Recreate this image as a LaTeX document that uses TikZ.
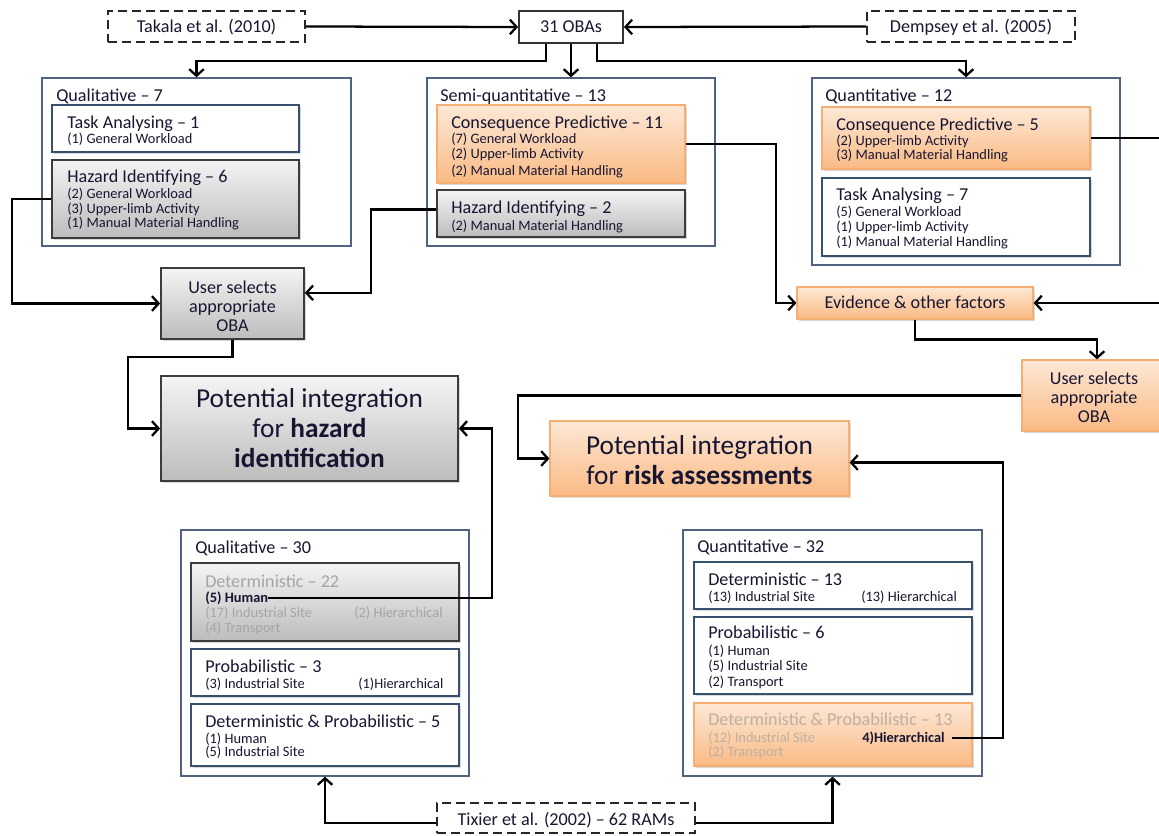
\documentclass[tikz,border=0pt]{standalone}
\usepackage{fontspec}
\setmainfont{Carlito}
\usetikzlibrary{arrows.meta,fit,shadows,calc}
\definecolor{ink}{RGB}{22,22,50}
\definecolor{outerc}{RGB}{80,100,130}
\definecolor{wboxc}{RGB}{55,80,110}
\definecolor{gborder}{RGB}{60,60,60}
\definecolor{oborder}{RGB}{245,175,115}
\definecolor{otop}{RGB}{253,232,214}
\definecolor{obot}{RGB}{250,186,132}
\definecolor{gtop}{RGB}{244,244,244}
\definecolor{gbot}{RGB}{188,188,188}
\definecolor{greytext}{RGB}{165,165,165}
\definecolor{paletext}{RGB}{190,175,162}
\newcommand\ftTitle{\fontsize{13.6pt}{16pt}\selectfont}
\newcommand\ftSmall{\fontsize{10.8pt}{12pt}\selectfont}
\newcommand\ftBig{\fontsize{20.5pt}{22.5pt}\selectfont}
\newcommand\ftUser{\fontsize{13.6pt}{14.3pt}\selectfont}
\tikzset{
  shad/.style={drop shadow={shadow xshift=1.2pt, shadow yshift=-1.2pt, opacity=0.3}},
  outerbox/.style={draw=outerc, line width=1pt, fill=white, inner sep=0pt},
  whitebox/.style={draw=wboxc, line width=1.3pt, fill=white, inner sep=0pt, shad},
  greybox/.style={draw=gborder, line width=1.3pt, top color=gtop, bottom color=gbot, inner sep=0pt, shad},
  orangebox/.style={draw=oborder, line width=0.9pt, top color=otop, bottom color=obot, inner sep=0pt, shad},
  dashbox/.style={draw=black!85, line width=1.7pt, dash pattern=on 6.5pt off 4pt, fill=white, inner sep=0pt},
  ttl/.style={anchor=west, inner sep=0pt, font=\ftTitle, text=ink, text height=8.7pt, text depth=0pt},
  sml/.style={anchor=west, inner sep=0pt, font=\ftSmall, text=ink, text height=6.9pt, text depth=0pt},
  ctr/.style={inner sep=0pt, font=\ftTitle, text=ink, text height=8.7pt, text depth=0pt},
  usr/.style={inner sep=0pt, font=\ftUser, text=ink, align=center},
  big/.style={inner sep=0pt, font=\ftBig, text=ink, align=center},
  conn/.style={draw=black, line width=1.7pt, -{Straight Barb[length=5pt,width=11pt]}},
}
\begin{document}
\begin{tikzpicture}[x=0.75pt,y=-0.75pt]
\useasboundingbox (0,0) rectangle (1159,835);

% ---------- top source boxes ----------
\node[dashbox, fit={(108,11) (305,42)}] (tk) {};
\node[ctr] (tkt) at (tk.center) {Takala et al. (2010)};
\node[draw=black!80, line width=1.4pt, fill=white, inner sep=0pt, fit={(519,11) (623,43)}] (oba) {};
\node[ctr] (obat) at (oba.center) {31 OBAs};
\node[dashbox, fit={(867,11) (1075,42)}] (dm) {};
\node[ctr] (dmt) at (dm.center) {Dempsey et al. (2005)};

% ---------- OBA groups ----------
\node[outerbox, fit={(42,78) (351,246)}] (q7) {};
\node[ttl] (q7t) at (56,96) {Qualitative -- 7};
\node[whitebox, fit={(52,105) (299,152)}] (ta1) {};
\node[ttl] (ta1t) at (67,123) {Task Analysing -- 1};
\node[sml] (ta1a) at (67,139) {(1) General Workload};
\node[greybox, fit={(52,160) (299,238)}] (hz6) {};
\node[ttl] (hz6t) at (67,177) {Hazard Identifying -- 6};
\node[sml] (hz6a) at (67,194) {(2) General Workload};
\node[sml] (hz6b) at (67,209) {(3) Upper-limb Activity};
\node[sml] (hz6c) at (67,223) {(1) Manual Material Handling};

\node[outerbox, fit={(427,78) (715,246)}] (sq) {};
\node[ttl] (sqt) at (440,96) {Semi-quantitative -- 13};
\node[orangebox, fit={(437,105) (685,183)}] (cp11) {};
\node[ttl] (cp11t) at (451,123) {Consequence Predictive -- 11};
\node[sml] (cp11a) at (451,139) {(7) General Workload};
\node[sml] (cp11b) at (451,154) {(2) Upper-limb Activity};
\node[sml] (cp11c) at (451,171) {(2) Manual Material Handling};
\node[greybox, fit={(437,190) (685,237)}] (hz2) {};
\node[ttl] (hz2t) at (451,208) {Hazard Identifying -- 2};
\node[sml] (hz2a) at (451,226) {(2) Manual Material Handling};

\node[outerbox, fit={(812,78) (1120,265)}] (q12) {};
\node[ttl] (q12t) at (825,96) {Quantitative -- 12};
\node[orangebox, fit={(822,107) (1090,169)}] (cp5) {};
\node[ttl] (cp5t) at (836,125) {Consequence Predictive -- 5};
\node[sml] (cp5a) at (836,141) {(2) Upper-limb Activity};
\node[sml] (cp5b) at (836,155) {(3) Manual Material Handling};
\node[whitebox, fit={(822,178) (1090,256)}] (ta7) {};
\node[ttl] (ta7t) at (836,195) {Task Analysing -- 7};
\node[sml] (ta7a) at (836,212) {(5) General Workload};
\node[sml] (ta7b) at (836,227) {(1) Upper-limb Activity};
\node[sml] (ta7c) at (836,242) {(1) Manual Material Handling};

% ---------- middle ----------
\node[greybox, fit={(161,268) (304,339)}] (us1) {};
\node[usr] (us1t) at (232.5,306) {User selects\\appropriate\\OBA};
\node[greybox, fit={(161,376) (458,481)}] (ph) {};
\node[big] (pht) at (309.5,428) {Potential integration\\for \textbf{hazard}\\\textbf{identification}};

\node[orangebox, fit={(797,287) (1033,319)}] (ev) {};
\node[ctr] (evt) at (ev.center) {Evidence \& other factors};
\node[orangebox, fit={(1022,360) (1172,431)}] (us2) {};
\node[usr] (us2t) at (1094,397) {User selects\\appropriate\\OBA};
\node[orangebox, fit={(550,421) (849,496)}] (pr) {};
\node[big] (prt) at (699.5,460) {Potential integration\\for \textbf{risk assessments}};

% ---------- RAM groups ----------
\node[outerbox, fit={(181,530) (469,776)}] (q30) {};
\node[ttl] (q30t) at (195,548) {Qualitative -- 30};
\node[greybox, fit={(191,563) (459,641)}] (d22) {};
\node[ttl, text=greytext] (d22t) at (205,582) {Deterministic -- 22};
\node[sml] (hum) at (205,598) {\textbf{(5) Human}};
\node[sml, text=greytext] (d22b) at (205,613) {(17) Industrial Site};
\node[sml, text=greytext] (d22c) at (354,613) {(2) Hierarchical};
\node[sml, text=greytext] (d22d) at (205,628) {(4) Transport};
\node[whitebox, fit={(191,649) (459,696)}] (p3) {};
\node[ttl] (p3t) at (205,667) {Probabilistic -- 3};
\node[sml] (p3a) at (205,684) {(3) Industrial Site};
\node[sml] (p3b) at (358,684) {(1)Hierarchical};
\node[whitebox, fit={(191,704) (459,766)}] (dp5) {};
\node[ttl] (dp5t) at (205,722) {Deterministic \& Probabilistic -- 5};
\node[sml] (dp5a) at (205,739) {(1) Human};
\node[sml] (dp5b) at (205,752) {(5) Industrial Site};

\node[outerbox, fit={(683,530) (982,776)}] (q32) {};
\node[ttl] (q32t) at (697,547) {Quantitative -- 32};
\node[whitebox, fit={(694,562) (972,609)}] (d13) {};
\node[ttl] (d13t) at (708,580) {Deterministic -- 13};
\node[sml] (d13a) at (708,597) {(13) Industrial Site};
\node[sml] (d13b) at (861,597) {(13) Hierarchical};
\node[whitebox, fit={(694,617) (972,694)}] (p6) {};
\node[ttl] (p6t) at (708,633) {Probabilistic -- 6};
\node[sml] (p6a) at (708,651) {(1) Human};
\node[sml] (p6b) at (708,666) {(5) Industrial Site};
\node[sml] (p6c) at (708,682) {(2) Transport};
\node[orangebox, fit={(694,703) (972,766)}] (dp13) {};
\node[ttl, text=paletext] (dp13t) at (708,720) {Deterministic \& Probabilistic -- 13};
\node[sml, text=paletext] (dp13a) at (708,738) {(12) Industrial Site};
\node[sml] (h4) at (862,738) {\textbf{4)Hierarchical}};
\node[sml, text=paletext] (dp13b) at (708,752) {(2) Transport};

\node[dashbox, fit={(437,803) (695,833)}] (tx) {};
\node[ctr] (txt) at (566,820) {Tixier et al. (2002) -- 62 RAMs};

% ---------- bend coordinates ----------
\coordinate (bl) at (12,0);
\coordinate (bh) at (371,0);
\coordinate (bu) at (128,357);
\coordinate (bc) at (776,0);
\coordinate (be) at (1170,0);
\coordinate (bs) at (518,0);
\coordinate (bd) at (1003,0);
\coordinate (bm) at (492,0);

% ---------- connectors ----------
\draw[conn] (tk.east) -- (oba.west);
\draw[conn] (dm.west) -- (oba.east);
\draw[conn] (oba.south) -- (sq.north);
\draw[conn] ([xshift=-19pt]oba.south) -- ++(0,17) -| (q7.north);
\draw[conn] ([xshift=19.5pt]oba.south) -- ++(0,17) -| (q12.north);

\draw[conn] (hz6.west) -- (hz6.west -| bl) |- (us1.west);
\draw[conn] ([yshift=3pt]hz2.west) -- ([yshift=3pt]hz2.west -| bh) |- ([yshift=8pt]us1.east);
\draw[conn] (us1.south) -- (us1.south |- bu) -- (bu) |- (ph.west);

\draw[conn] (cp11.east) -- (cp11.east -| bc) |- (ev.west);
\draw[conn] (cp5.east) -- (cp5.east -| be) |- (ev.east);
\draw[conn] (ev.south) -- ++(0,20) -| (us2.north);
\draw[conn] (us2.west) -- (us2.west -| bs) |- (pr.west);

\draw[conn] (hum.east) -- (hum.east -| bm) |- (ph.east);
\draw[conn] ([xshift=5pt]h4.east) -- (h4.east -| bd) |- ([yshift=-3pt]pr.east);

\draw[conn] ([yshift=-4pt]tx.west) -| (q30.south);
\draw[conn] ([yshift=-4pt]tx.east) -| (q32.south);
\end{tikzpicture}
\end{document}
